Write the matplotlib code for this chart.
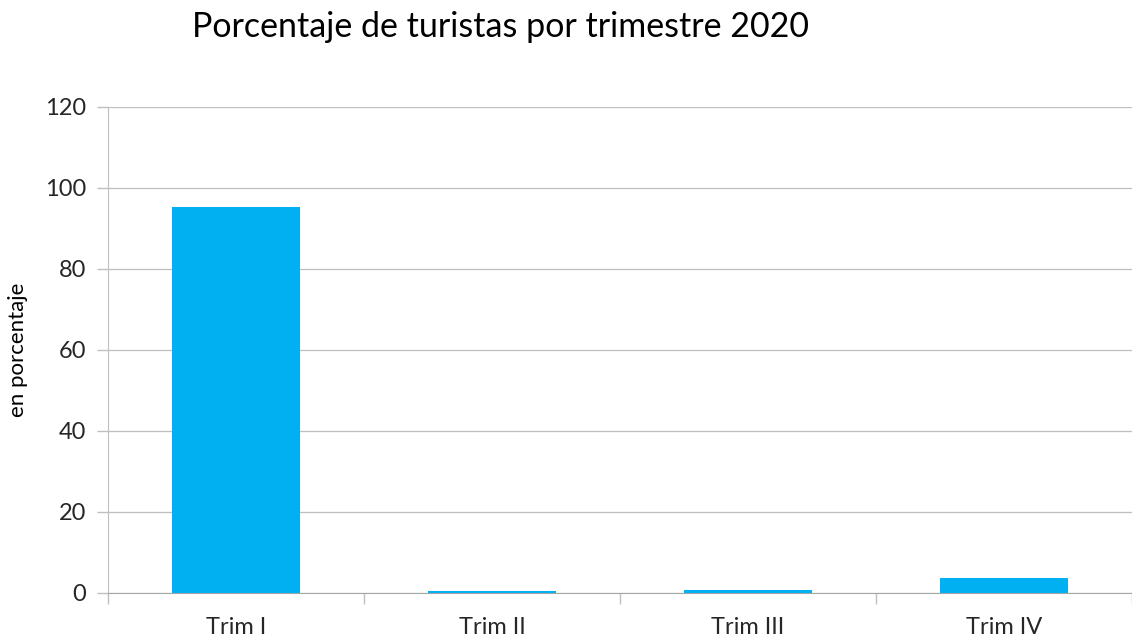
import numpy as np
import matplotlib.pyplot as plt

# -------- DATA --------
categories = ["Trim I", "Trim II", "Trim III", "Trim IV"]
values = [95.2, 0.4, 0.75, 3.6]
y_ticks = [0, 20, 40, 60, 80, 100, 120]

plt.rcParams['font.family'] = ['Lato', 'DejaVu Sans']

fig = plt.figure(figsize=(11.32, 6.39), dpi=100)
ax = fig.add_axes([0.0954, 0.072, 0.9046, 0.7606])

x = np.arange(len(categories))
ax.bar(x, values, width=0.5, color="#00B0F0", zorder=3)

ax.set_xlim(-0.5, len(categories) - 0.5)
ax.set_ylim(0, 120)
ax.set_yticks(y_ticks)
ax.set_yticklabels([str(v) for v in y_ticks], fontsize=17, color="#262626")
ax.set_xticks(x)
ax.set_xticklabels(categories, fontsize=17, color="#262626")
ax.set_xticks(np.arange(len(categories) + 1) - 0.5, minor=True)

ax.tick_params(axis='x', which='major', length=0, pad=17)
ax.tick_params(axis='x', which='minor', length=8, color="#BFBFBF", width=1)
ax.tick_params(axis='y', length=8, color="#BFBFBF", width=1, pad=8)

ax.grid(axis='y', color="#BFBFBF", linewidth=0.9, zorder=0)
for s in ['top', 'right']:
    ax.spines[s].set_visible(False)
ax.spines['left'].set_color("#BFBFBF")
ax.spines['bottom'].set_color("#A6A6A6")

ax.set_ylabel("en porcentaje", fontsize=16, color="#000000", labelpad=12)
fig.text(0.442, 0.958, "Porcentaje de turistas por trimestre 2020",
         fontsize=24.5, ha='center', va='center', color="#000000")

plt.savefig("out.png", dpi=100)
